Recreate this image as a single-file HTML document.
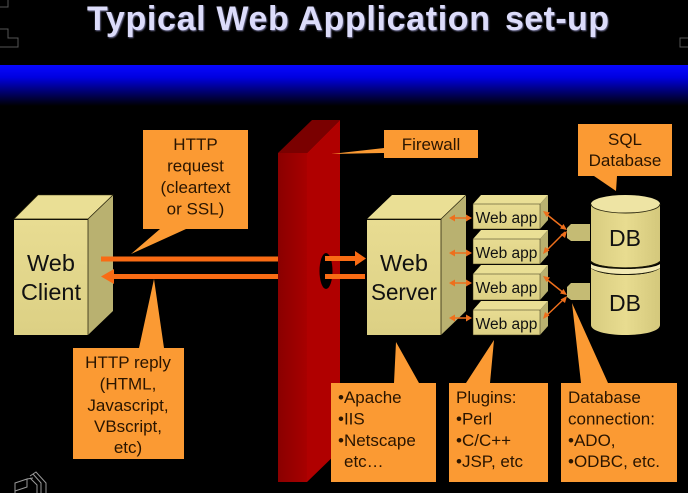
<!DOCTYPE html>
<html><head><meta charset="utf-8"><style>
html,body{margin:0;padding:0;background:#000;width:688px;height:493px;overflow:hidden}
svg{display:block;font-family:"Liberation Sans",Arial,sans-serif}
.c{font-size:17px;fill:#2a1500;text-anchor:middle}
.l{font-size:17px;fill:#2a1500}
.w{font-size:15.5px;fill:#111;text-anchor:middle}
.b{font-size:23.5px;fill:#111;text-anchor:middle}
.d{font-size:23px;fill:#111;text-anchor:middle}
</style></head><body>
<svg width="688" height="493" viewBox="0 0 688 493" xmlns="http://www.w3.org/2000/svg">
<defs>
<linearGradient id="band" x1="0" y1="0" x2="0" y2="1"><stop offset="0" stop-color="#0808ff"/><stop offset=".3" stop-color="#0000e0"/><stop offset="1" stop-color="#000"/></linearGradient>
<linearGradient id="cyl" x1="0" y1="0" x2="1" y2="0"><stop offset="0" stop-color="#d8cc80"/><stop offset=".5" stop-color="#e8dc90"/><stop offset="1" stop-color="#d4c87c"/></linearGradient>
<linearGradient id="fw" x1="0" y1="0" x2="1" y2="0"><stop offset="0" stop-color="#8a0000"/><stop offset="1" stop-color="#a80000"/></linearGradient>
<linearGradient id="front" x1="0" y1="0" x2="0" y2="1"><stop offset="0" stop-color="#e8dc92"/><stop offset="1" stop-color="#dcd084"/></linearGradient>
<filter id="soft" x="-5%" y="-20%" width="110%" height="140%"><feGaussianBlur stdDeviation="0.8"/></filter>
</defs>
<rect width="688" height="493" fill="#000"/>
<rect x="0" y="65" width="688" height="41" fill="url(#band)"/>

<!-- corner decorations -->
<g fill="none" stroke="#555" stroke-width="1">
<path d="M0 7H8V0"/><path d="M0 29H8V38H18V47H0"/><path d="M688 38H680V47H688"/>
<path d="M15 483L27 479V487L15 491ZM27 479L33 478M30 476L36 472L46 483V493M33 474L41 483V493M30 478L37 485V493M15 491V493" stroke="#999"/>
</g>

<!-- title -->
<g font-size="34" font-weight="bold">
<text x="87.800" y="31" fill="#77779c" textLength="403" lengthAdjust="spacing" filter="url(#soft)">Typical Web Application</text>
<text x="505.800" y="31" fill="#77779c" textLength="104" lengthAdjust="spacing" filter="url(#soft)">set-up</text>
<text x="87" y="30" fill="#dcdcfa" textLength="403" lengthAdjust="spacing">Typical Web Application</text>
<text x="505" y="30" fill="#dcdcfa" textLength="104" lengthAdjust="spacing">set-up</text>
</g>

<!-- web client -->
<polygon points="14,219 38,195 113,195 88,219" fill="#eadf95" stroke="#3a3410" stroke-width=".6"/>
<polygon points="88,219 113,195 113,311 88,335" fill="#b9b170"/>
<rect x="14" y="220" width="74" height="115" fill="url(#front)"/>
<path d="M14 219H88V335M88 219L113 195" fill="none" stroke="#2e2a10" stroke-width=".8"/>
<text class="b" x="51" y="271">Web</text><text class="b" x="51" y="300">Client</text>

<!-- firewall -->
<polygon points="278,153 312,120 340,120 307,153" fill="#7a0000"/>
<polygon points="307,153 340,120 340,450 307,482" fill="#b00000"/>
<rect x="278" y="153" width="29" height="329" fill="url(#fw)"/>
<ellipse cx="326" cy="271" rx="6.500" ry="18" fill="#000"/>

<!-- callouts -->
<g fill="#fb9a33">
<path d="M143 130H248V229H186L131 254L160 229H143Z"/>
<path d="M73 348H139L154 279L164 348H184V459H73Z"/>
<path d="M384 130H478V158H384V153L331 154L384 148Z"/>
<path d="M578 124H672V176H617L616 191L594 176H578Z"/>
<path d="M331 383H394L396 342L419 383H436V482H331Z"/>
<path d="M449 383H466L494 340L490 383H548V482H449Z"/>
<path d="M561 383H581L572 303L608 383H677V482H561Z"/>
</g>

<text class="c" x="195.500" y="150">HTTP</text>
<text class="c" x="195.500" y="171.500">request</text>
<text class="c" x="195.500" y="193">(cleartext</text>
<text class="c" x="195.500" y="214.500">or SSL)</text>

<text class="c" x="128" y="368">HTTP reply</text>
<text class="c" x="128" y="389.500">(HTML,</text>
<text class="c" x="128" y="411">Javascript,</text>
<text class="c" x="128" y="432">VBscript,</text>
<text class="c" x="128" y="453">etc)</text>

<text class="c" x="431" y="150">Firewall</text>
<text class="c" x="625" y="145">SQL</text>
<text class="c" x="625" y="166">Database</text>

<text class="l" x="338" y="403">•Apache</text>
<text class="l" x="338" y="424.500">•IIS</text>
<text class="l" x="338" y="446">•Netscape</text>
<text class="l" x="344" y="467">etc…</text>

<text class="l" x="456" y="403">Plugins:</text>
<text class="l" x="456" y="424.500">•Perl</text>
<text class="l" x="456" y="446">•C/C++</text>
<text class="l" x="456" y="467">•JSP, etc</text>

<text class="l" x="568" y="403">Database</text>
<text class="l" x="568" y="424.500">connection:</text>
<text class="l" x="568" y="446">•ADO,</text>
<text class="l" x="568" y="467">•ODBC, etc.</text>

<!-- web server -->
<polygon points="367,219 392,195 466,195 441,219" fill="#eadf95"/>
<polygon points="441,219 466,195 466,311 441,335" fill="#b9b170"/>
<rect x="367" y="220" width="74" height="115" fill="url(#front)"/>
<path d="M367 219H441V335M441 219L466 195" fill="none" stroke="#2e2a10" stroke-width=".8"/>
<text class="b" x="404" y="271">Web</text><text class="b" x="404" y="300" textLength="66" lengthAdjust="spacingAndGlyphs">Server</text>

<!-- main arrows -->
<g fill="#f96b14">
<rect x="101" y="256.500" width="177" height="5"/>
<path d="M114 274H278V279H114V284L101 276.500L114 269Z"/>
<path d="M325 256H355V251L366 258.500L355 266V261H325Z"/>
<rect x="325" y="274" width="40" height="5"/>
</g>

<!-- web apps -->
<g>
<g><polygon points="473,204 481,195 548,195 540,204" fill="#eadf95"/><polygon points="540,204 548,195 548,220 540,229" fill="#b9b170"/><rect x="473" y="204" width="67" height="25" fill="url(#front)" stroke="#2e2a10" stroke-width=".5"/><text class="w" x="506.500" y="223">Web app</text></g>
<g><polygon points="473,239 481,230 548,230 540,239" fill="#eadf95"/><polygon points="540,239 548,230 548,255 540,264" fill="#b9b170"/><rect x="473" y="239" width="67" height="25" fill="url(#front)" stroke="#2e2a10" stroke-width=".5"/><text class="w" x="506.500" y="258">Web app</text></g>
<g><polygon points="473,274 481,265 548,265 540,274" fill="#eadf95"/><polygon points="540,274 548,265 548,291 540,300" fill="#b9b170"/><rect x="473" y="274" width="67" height="26" fill="url(#front)" stroke="#2e2a10" stroke-width=".5"/><text class="w" x="506.500" y="293">Web app</text></g>
<g><polygon points="473,310 481,301 548,301 540,310" fill="#eadf95"/><polygon points="540,310 548,301 548,326 540,335" fill="#b9b170"/><rect x="473" y="310" width="67" height="25" fill="url(#front)" stroke="#2e2a10" stroke-width=".5"/><text class="w" x="506.500" y="329">Web app</text></g>
</g>

<!-- small arrows server <-> apps -->
<g stroke="#ee6f1c" stroke-width="1.500" fill="#ee6f1c">
<path d="M452 218H469"/><path d="M452 253H469"/><path d="M452 283H469"/><path d="M452 318H469"/>
<path d="M449 218l6-3.500v7zM472 218l-6-3.500v7zM449 253l6-3.500v7zM472 253l-6-3.500v7zM449 283l6-3.500v7zM472 283l-6-3.500v7zM449 318l6-3.500v7zM472 318l-6-3.500v7z" stroke="none"/>
<path d="M545 213L565 229"/><path d="M545 252L565 232"/>
<path d="M545 278L565 294"/><path d="M545 317L565 298"/>
<path d="M543 211l7 1.500l-3.500 4.500zM567 230l-7-1.500l3.500-4.500zM543 254l2-7l4.500 3.500zM567 231l-2 7l-4.500-3.500zM543 276l7 1.500l-3.500 4.500zM567 295l-7-1.500l3.500-4.500zM543 319l2-7l4.500 3.500zM567 296l-2 7l-4.500-3.500z" stroke="none"/>
</g>

<!-- database -->
<path d="M591 268C595 272 608 275 625.500 275S656 272 660 268V325C660 331 645 335 625.500 335S591 331 591 325Z" fill="url(#cyl)"/>
<path d="M591 267C595 271 608 273.500 625.500 273.500S656 271 660 267V268C656 272 643 275 625.500 275S595 272 591 268Z" fill="#1a1806"/>
<path d="M591 264C595 267 608 269 625.500 269S656 267 660 264V268C656 271 643 274 625.500 274S595 271 591 268Z" fill="#f2e9b4"/>
<path d="M591 204V261C595 265 608 267.500 625.500 267.500S656 265 660 261V204Z" fill="url(#cyl)"/>
<path d="M591 261.500C595 265.500 608 268 625.500 268S656 265.500 660 261.500" fill="none" stroke="#1a1806" stroke-width="1.200"/>
<ellipse cx="625.500" cy="204" rx="34.500" ry="9" fill="#eee4a4"/>
<path d="M591 204C591 209 606 213 625.500 213S660 209 660 204" fill="none" stroke="#2e2a10" stroke-width=".9"/>
<text class="d" x="625" y="246">DB</text>
<text class="d" x="625" y="311">DB</text>

<path d="M571 224H590V241H571L567 238V228Z" fill="#c5bb74"/>
<path d="M571 283H590V300H571L567 297V287Z" fill="#c5bb74"/>
</svg>
</body></html>
